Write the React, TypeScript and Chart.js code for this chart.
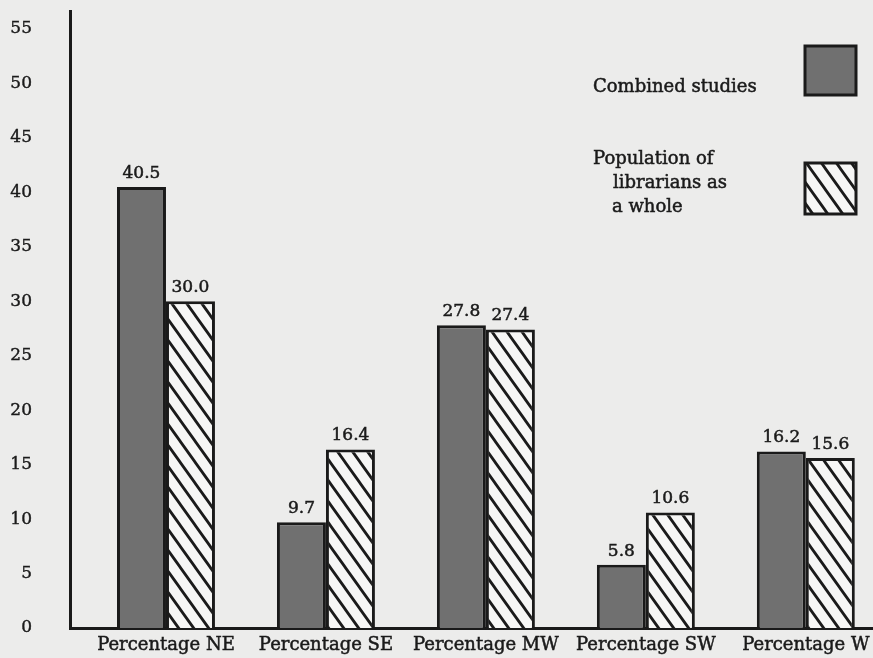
import React, { useEffect, useRef } from "react";
import { Chart, registerables } from "chart.js";

Chart.register(...registerables);

const categories = ["Percentage NE", "Percentage SE", "Percentage MW", "Percentage SW", "Percentage W"];
const combinedStudies = [40.5, 9.7, 27.8, 5.8, 16.2];
const populationWhole = [30.0, 16.4, 27.4, 10.6, 15.6];
const yTickValues = [0, 5, 10, 15, 20, 25, 30, 35, 40, 45, 50, 55];
const legendCombined = ["Combined studies"];
const legendPopulation = ["Population of", "librarians as", "a whole"];

const FONT = '"DejaVu Serif"';
const INK = "#1a1a1a";
const PAPER = "#ececeb";
const GREY = "#707070";

function makeHatch(): CanvasPattern | string {
  const w = 15;
  const h = 21;
  const c = document.createElement("canvas");
  c.width = w;
  c.height = h;
  const g = c.getContext("2d");
  if (!g) return "#f5f5f4";
  g.fillStyle = "#f6f6f5";
  g.fillRect(0, 0, w, h);
  g.strokeStyle = INK;
  g.lineWidth = 2.8;
  g.beginPath();
  for (let k = -1; k <= 1; k++) {
    g.moveTo(k * w - w * 0.5, -h * 0.5);
    g.lineTo(k * w + w * 1.5, h * 1.5);
  }
  g.stroke();
  const p = g.createPattern(c, "repeat");
  return p || "#f5f5f4";
}

export default function App() {
  const ref = useRef<HTMLCanvasElement | null>(null);

  useEffect(() => {
    const canvas = ref.current;
    if (!canvas) return;
    const hatch = makeHatch();

    const drawText = (ctx: CanvasRenderingContext2D, t: string, x: number, y: number) => {
      ctx.strokeText(t, x, y);
      ctx.fillText(t, x, y);
    };

    const overlay = {
      id: "overlay",
      afterDatasetsDraw(chart: any) {
        const ctx = chart.ctx;
        ctx.save();
        ctx.fillStyle = INK;
        ctx.strokeStyle = INK;
        ctx.lineWidth = 0.5;
        ctx.font = `17px ${FONT}`;
        ctx.textAlign = "center";
        ctx.textBaseline = "bottom";
        chart.data.datasets.forEach((ds: any, di: number) => {
          const meta = chart.getDatasetMeta(di);
          meta.data.forEach((bar: any, i: number) => {
            const v = ds.data[i].y;
            drawText(ctx, v.toFixed(1), bar.x, bar.y - 5);
          });
        });
        // legend text
        ctx.textAlign = "left";
        ctx.textBaseline = "middle";
        ctx.font = `18px ${FONT}`;
        legendCombined.forEach((t, i) => drawText(ctx, t, 593, 87 + i * 23));
        const popX = [593, 613, 612];
        legendPopulation.forEach((t, i) => drawText(ctx, t, popX[i], 159 + i * 24));
        // legend swatches
        ctx.lineWidth = 3;
        ctx.strokeStyle = INK;
        ctx.fillStyle = GREY;
        ctx.fillRect(805, 46, 51, 49);
        ctx.strokeRect(805, 46, 51, 49);
        ctx.fillStyle = hatch as any;
        ctx.fillRect(805, 163, 51, 51);
        ctx.strokeRect(805, 163, 51, 51);
        ctx.restore();
      },
    };

    const bg = {
      id: "bg",
      beforeDraw(chart: any) {
        const ctx = chart.ctx;
        ctx.save();
        ctx.fillStyle = PAPER;
        ctx.fillRect(0, 0, chart.width, chart.height);
        ctx.restore();
      },
    };

    const chart = new Chart(canvas, {
      type: "bar",
      data: {
        datasets: [
          {
            label: "Combined studies",
            data: combinedStudies.map((y, i) => ({ x: i, y })),
            backgroundColor: GREY,
            borderColor: INK,
            borderWidth: 3,
          },
          {
            label: "Population of librarians as a whole",
            data: populationWhole.map((y, i) => ({ x: i, y })),
            backgroundColor: hatch as any,
            borderColor: INK,
            borderWidth: 3,
          },
        ],
      },
      options: {
        animation: false,
        responsive: false,
        maintainAspectRatio: false,
        layout: { padding: { top: 11, right: 0, left: 0, bottom: 0 } },
        datasets: { bar: { categoryPercentage: 0.6125, barPercentage: 1 } },
        plugins: { legend: { display: false }, tooltip: { enabled: false } },
        scales: {
          x: {
            type: "linear",
            min: -0.6,
            max: 4.42,
            offset: false,
            grid: { display: false, drawTicks: false, offset: false },
            border: { display: true, width: 3, color: INK },
            afterBuildTicks: (s: any) => {
              s.ticks = categories.map((_, i) => ({ value: i }));
            },
            afterFit: (s: any) => {
              s.paddingLeft = 0;
              s.paddingRight = 0;
              s.height = 30;
            },
            ticks: {
              autoSkip: false,
              maxRotation: 0,
              padding: 7,
              color: INK,
              textStrokeColor: INK,
              textStrokeWidth: 0.5,
              font: { family: "DejaVu Serif", size: 18 },
              callback: (v: any) => categories[Math.round(Number(v))] ?? "",
            },
          },
          y: {
            min: 0,
            max: 56.65,
            grid: { display: false, drawTicks: false },
            border: { display: true, width: 3, color: INK },
            afterBuildTicks: (s: any) => {
              s.ticks = yTickValues.map((v) => ({ value: v }));
            },
            afterFit: (s: any) => {
              s.width = 70;
              s.paddingTop = 0;
              s.paddingBottom = 0;
            },
            ticks: {
              padding: 38,
              color: INK,
              textStrokeColor: INK,
              textStrokeWidth: 0.4,
              font: { family: "DejaVu Serif", size: 17 },
            },
          },
        },
      },
      plugins: [bg, overlay],
    });
    return () => chart.destroy();
  }, []);

  return (
    <div style={{ position: "absolute", left: 0, top: 0, width: 873, height: 658 }}>
      <canvas ref={ref} width={873} height={658} style={{ display: "block" }} />
    </div>
  );
}
